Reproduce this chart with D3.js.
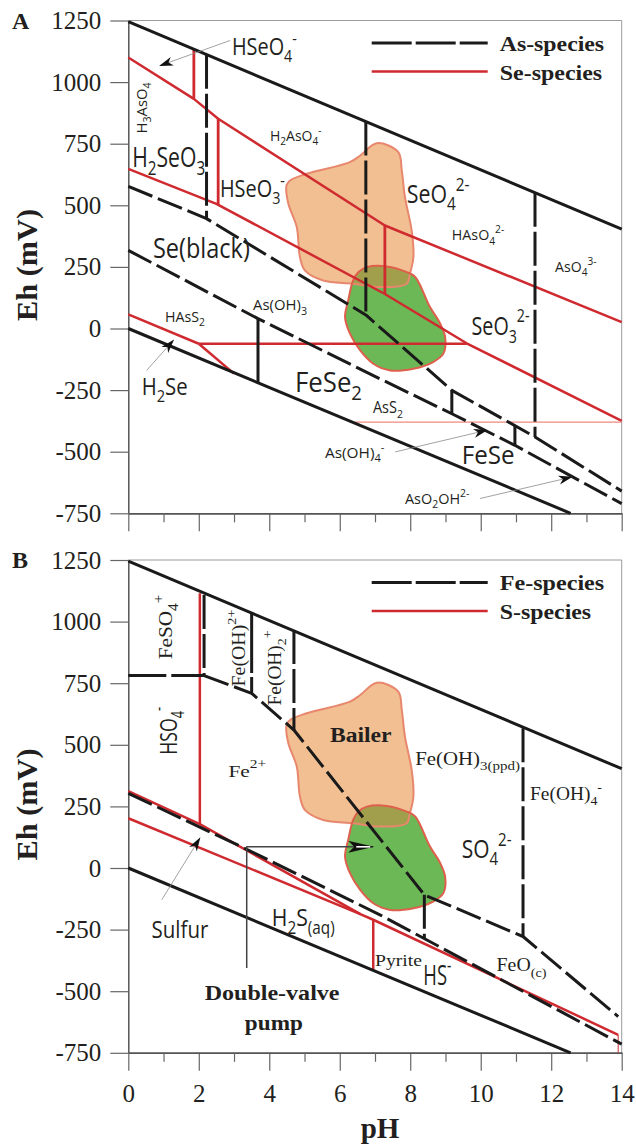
<!DOCTYPE html>
<html>
<head>
<meta charset="utf-8">
<script src="https://cdn.jsdelivr.net/npm/d3@7"></script>
<style>
  body { margin: 0; background: #fff; }
</style>
</head>
<body>
<svg id="chart" width="636" height="1147"></svg>
<script>
// ---- axes ----
const phTicks = d3.range(0, 15);
const phLabels = [0, 2, 4, 6, 8, 10, 12, 14];
const ehTicks = [1250, 1000, 750, 500, 250, 0, -250, -500, -750];

// ---- water stability limits (both panels) [pH, Eh] ----
const waterUpper = [[0, 1245], [14, 403]];
const waterLower = [[0, 0], [12.55, -750]];

// ---- panel A : As boundaries ----
const asLine1 = [[0, 577], [2.22, 446], [6.74, 55], [9.18, -251], [11.54, -440], [14, -660]];
const asLine2 = [[0, 317], [3.68, 40], [7.14, -204], [9.18, -346], [10.97, -474], [14, -711]];
const asVertDashed = [[2.22, 1111, 446], [6.74, 840, 55], [11.54, 551, -440]];
const asVertSolid = [[3.68, 40, -220], [9.18, -251, -346], [10.97, -394, -474]];

// ---- panel A : Se boundaries ----
const seLine1 = [[0, 1100], [1.86, 932], [2.55, 851], [7.28, 418], [14, 26]];
const seLine2 = [[0, 648], [2.5, 506], [7.28, 140], [9.6, -60], [14, -375]];
const seLine3 = [[0, 57], [2.0, -62]];
const seFeSe2 = [[2.0, -62], [9.6, -62]];
const seH2Se = [[2.0, -62], [3.0, -183]];
const seVert = [[1.86, 1133, 932], [2.55, 851, 502], [7.28, 418, 140]];
const asS2Line = [[6.43, -380], [14, -380]];

// ---- panel B : Fe boundaries ----
const feHoriz = [[0, 781], [2.15, 781]];
const feUpper = [[2.15, 781], [3.5, 709], [4.7, 560], [8.4, -109], [11.2, -278], [13.9, -603]];
const feLower = [[0, 303], [3.36, 76], [7.14, -190], [14, -715]];
const feVertDashed = [[2.15, 1108, 781], [4.7, 966, 560], [8.4, -109, -287], [11.2, 567, -278]];
const feVertSolid = [[3.5, 1035, 709]];

// ---- panel B : S boundaries ----
const sUpper = [[0, 312], [2.03, 178], [6.6, -188]];
const sLower = [[0, 202], [6.6, -188]];
const sMain = [[6.6, -188], [6.95, -210], [13.9, -677]];
const sVert = [[2.03, 1115, 178], [6.95, -210, -412], [13.9, -677, -750]];

// ---- sampled waters (same in both panels) ----
const bailer = [[4.49, 581], [4.54, 507], [4.78, 412], [4.87, 290], [5.01, 236], [5.53, 195],
  [6.38, 182], [7.14, 168], [7.90, 182], [7.99, 222], [8.09, 290], [8.04, 398], [7.85, 533],
  [7.76, 641], [7.66, 716], [7.05, 752], [6.58, 702], [6.29, 675], [5.06, 628], [4.59, 601]];
const pump = [[6.53, 229], [6.77, 249], [7.33, 252], [7.90, 229], [8.14, 209], [8.56, 87],
  [8.85, 20], [8.99, -35], [8.94, -102], [8.65, -136], [8.09, -163], [7.43, -170], [6.95, -143],
  [6.58, -89], [6.29, -21], [6.15, 46], [6.24, 114], [6.38, 195]];

const BLACK = "#1a1a1a", RED = "#cf2a30", TXT = "#231f20";
const SANS = "'Open Sans', 'Noto Sans', sans-serif";
const SERIF = "'Liberation Serif', 'Times New Roman', serif";

const svg = d3.select("#chart");
const defs = svg.append("defs");
defs.append("marker").attr("id", "tip")
  .attr("viewBox", "0 0 14 10").attr("refX", 13).attr("refY", 5)
  .attr("markerWidth", 15).attr("markerHeight", 10)
  .attr("markerUnits", "userSpaceOnUse").attr("orient", "auto")
  .append("path").attr("d", "M0,0.5 L14,5 L0,9.5 L4,5 Z").attr("fill", "#111");
const tipW = defs.append("marker").attr("id", "tipw")
  .attr("viewBox", "0 0 26 12").attr("refX", 25).attr("refY", 6)
  .attr("markerWidth", 26).attr("markerHeight", 12)
  .attr("markerUnits", "userSpaceOnUse").attr("orient", "auto");
tipW.append("path").attr("d", "M0,0 L26,6 L0,12 L6,6 Z").attr("fill", "#111");
tipW.append("path").attr("d", "M8,6 L22,6").attr("stroke", "#fff").attr("stroke-width", 1.6);

const x = d3.scaleLinear().domain([0, 14]).range([128.3, 621.7]);

function rich(t, markup, size) {
  const parts = markup.split(/(_\{[^}]*\}|\^\{[^}]*\})/).filter(s => s);
  let cur = 0;
  parts.forEach(p => {
    let off = 0, txt = p, small = false;
    if (p.startsWith("_{")) { off = 0.3; txt = p.slice(2, -1); small = true; }
    else if (p.startsWith("^{")) { off = -0.48; txt = p.slice(2, -1); small = true; }
    t.append("tspan").attr("dy", (off - cur) * size)
      .attr("font-size", small ? size * 0.72 : size).text(txt);
    cur = off;
  });
}

function label(g, px, py, markup, o) {
  const t = g.append("text")
    .attr("font-family", o.serif ? SERIF : SANS)
    .attr("font-size", o.size)
    .attr("font-weight", o.bold ? 700 : 400)
    .attr("fill", TXT)
    .attr("text-anchor", o.anchor || "start");
  rich(t, markup, o.size);
  const w = t.node().getBBox().width;
  const s = o.width ? o.width / w : 1;
  t.attr("transform", `translate(${px},${py})` + (o.rotate ? " rotate(-90)" : "") + ` scale(${s},1)`);
  return t;
}

function panel(top, letter, legendNames) {
  const y = d3.scaleLinear().domain([-750, 1250]).range([top + 492.8, top]);
  const g = svg.append("g");
  const line = d3.line().x(d => x(d[0])).y(d => y(d[1]));

  // frame
  g.append("line").attr("x1", x(0)).attr("x2", x(14)).attr("y1", y(1250)).attr("y2", y(1250))
    .attr("stroke", "#9a9a9a").attr("stroke-width", 1);
  g.append("line").attr("x1", x(14)).attr("x2", x(14)).attr("y1", y(1250)).attr("y2", y(-750))
    .attr("stroke", "#9a9a9a").attr("stroke-width", 1);

  const yAxis = g.append("g").attr("transform", `translate(${x(0)},0)`)
    .call(d3.axisLeft(y).tickValues(ehTicks).tickSize(18).tickSizeOuter(0).tickPadding(9)
      .tickFormat(d => d < 0 ? "-" + Math.abs(d) : String(d)));
  const xMajor = g.append("g").attr("transform", `translate(0,${y(-750)})`)
    .call(d3.axisBottom(x).tickValues(phLabels).tickSize(18).tickSizeOuter(0).tickPadding(13)
      .tickFormat(d => letter === "B" ? d : ""));
  const xMinor = g.append("g").attr("transform", `translate(0,${y(-750)})`)
    .call(d3.axisBottom(x).tickValues(phTicks.filter(d => d % 2)).tickSize(9).tickSizeOuter(0).tickFormat(""));
  [yAxis, xMajor, xMinor].forEach(a => {
    a.select(".domain").attr("stroke", "#555").attr("stroke-width", 1.5);
    a.selectAll(".tick line").attr("stroke", "#666").attr("stroke-width", 1.2);
    a.selectAll("text").attr("font-family", SERIF).attr("font-size", 25).attr("fill", TXT);
  });

  // panel letter, axis title
  g.append("text").attr("x", 12).attr("y", top + 8).attr("font-family", SERIF)
    .attr("font-weight", 700).attr("font-size", 24).attr("fill", TXT).text(letter);
  label(g, 37, (y(1250) + y(-750)) / 2 - 2, "Eh (mV)", { serif: true, bold: true, size: 29, rotate: true, anchor: "middle", width: 112 });

  // legend
  const lx0 = x(14) - 250, lx1 = x(14) - 134;
  g.append("line").attr("x1", lx0).attr("x2", lx1).attr("y1", top + 22.5).attr("y2", top + 22.5)
    .attr("stroke", BLACK).attr("stroke-width", 3).attr("stroke-dasharray", "40,4");
  g.append("line").attr("x1", lx0).attr("x2", lx1).attr("y1", top + 51).attr("y2", top + 51)
    .attr("stroke", RED).attr("stroke-width", 2.5);
  label(g, x(14) - 122, top + 30, legendNames[0], { serif: true, bold: true, size: 22, width: 105 });
  label(g, x(14) - 122, top + 59, legendNames[1], { serif: true, bold: true, size: 22, width: legendNames[2] });

  // sampled waters
  const blob = d3.line().x(d => x(d[0])).y(d => y(d[1])).curve(d3.curveCatmullRomClosed.alpha(0.5));
  const clipId = "clip" + letter;
  defs.append("clipPath").attr("id", clipId).append("path").attr("d", blob(bailer));
  g.append("path").attr("d", blob(bailer)).attr("fill", "#f1bf91");
  g.append("path").attr("d", blob(pump)).attr("fill", "#6cb856");
  g.append("path").attr("d", blob(pump)).attr("fill", "#a29f4c").attr("clip-path", `url(#${clipId})`);
  g.append("path").attr("d", blob(bailer)).attr("fill", "none").attr("stroke", "#e8876d").attr("stroke-width", 2);
  g.append("path").attr("d", blob(pump)).attr("fill", "none").attr("stroke", "#de604c").attr("stroke-width", 2);

  const draw = (pts, color, width, dash) => g.append("path").attr("d", line(pts))
    .attr("fill", "none").attr("stroke", color).attr("stroke-width", width)
    .attr("stroke-dasharray", dash || null).attr("stroke-linejoin", "round");
  const verts = (list, color, width, dash) =>
    list.forEach(([p, e0, e1]) => draw([[p, e0], [p, e1]], color, width, dash));
  const arrow = (pts, color, width, marker) => draw(pts, color, width).attr("marker-end", `url(#${marker})`);

  return { g, y, draw, verts, arrow };
}

// ================= Panel A =================
const A = panel(20.5, "A", ["As-species", "Se-species", 103]);
A.draw(seLine1, RED, 2.5);
A.draw(seLine2, RED, 2.5);
A.draw(seLine3, RED, 2.5);
A.draw(seFeSe2, RED, 2.5);
A.draw(seH2Se, RED, 2.5);
A.verts(seVert, RED, 2.8);
A.draw(asS2Line, "#ef8a82", 1.2);
A.draw(waterUpper, BLACK, 3);
A.draw(waterLower, BLACK, 3);
A.draw(asLine1, BLACK, 3, "26,6");
A.draw(asLine2, BLACK, 3, "26,6");
A.verts(asVertDashed, BLACK, 3, "34,5");
A.verts(asVertSolid, BLACK, 3);
A.arrow([[2.89, 1169], [0.90, 1067]], "#8a8a8a", 0.8, "tip");
A.arrow([[0.52, -170], [1.28, -48]], "#8a8a8a", 0.8, "tip");
A.arrow([[7.57, -501], [10.17, -413]], "#8a8a8a", 0.8, "tip");
A.arrow([[9.98, -690], [12.58, -603]], "#8a8a8a", 0.8, "tip");

[
  [2.94, 1110, "HSeO_{4}^{-}", 23, 65],
  [0.11, 656, "H_{2}SeO_{3}", 27, 73],
  [2.60, 534, "HSeO_{3}^{-}", 23, 65],
  [4.02, 761, "H_{2}AsO_{4}^{-}", 15, 52],
  [0.70, 286, "Se(black)", 27, 97],
  [7.90, 510, "SeO_{4}^{2-}", 25, 63],
  [9.18, 359, "HAsO_{4}^{2-}", 15, 53],
  [12.11, 230, "AsO_{4}^{3-}", 15, 42],
  [3.54, 75, "As(OH)_{3}", 15, 54],
  [1.04, 28, "HAsS_{2}", 15, 40],
  [0.38, -270, "H_{2}Se", 23, 46],
  [4.73, -256, "FeSe_{2}", 27, 67],
  [6.94, -343, "AsS_{2}", 16, 30],
  [9.74, -26, "SeO_{3}^{2-}", 26, 58],
  [5.58, -525, "As(OH)_{4}^{-}", 15, 60],
  [9.46, -550, "FeSe", 26, 53],
  [7.85, -712, "AsO_{2}OH^{2-}", 15, 65]
].forEach(([p, e, m, s, w]) => label(A.g, x(p), A.y(e), m, { size: s, width: w }));
label(A.g, x(0.53), A.y(895), "H_{3}AsO_{4}", { size: 15, width: 51, rotate: true, anchor: "middle" });

// ================= Panel B =================
const B = panel(560, "B", ["Fe-species", "S-species", 92]);
B.draw(sUpper, RED, 2.5);
B.draw(sLower, RED, 2.5);
B.draw(sMain, RED, 2.5);
B.verts(sVert.slice(0, 2), RED, 2.5);
B.verts(sVert.slice(2), RED, 1);
B.draw(waterUpper, BLACK, 3);
B.draw(waterLower, BLACK, 3);
B.draw(feHoriz, BLACK, 3, "38,5");
B.draw(feUpper, BLACK, 3, "26,6");
B.draw(feLower, BLACK, 3, "26,6");
B.verts(feVertDashed, BLACK, 3, "34,5");
B.verts(feVertSolid, BLACK, 3, "60,4");
B.arrow([[0.95, -129], [2.03, 121]], "#8a8a8a", 0.8, "tip");
B.arrow([[3.36, -406], [3.36, 86], [6.95, 86]], "#444", 1.5, "tipw");

[
  [2.84, 371, "Fe^{2+}", 17, 38, true],
  [8.14, 419, "Fe(OH)_{3(ppd)}", 18, 105, true],
  [11.40, 277, "Fe(OH)_{4}^{-}", 18, 72, true],
  [9.46, 41, "SO_{4}^{2-}", 25, 50, false],
  [0.66, -284, "Sulfur", 24, 57, false],
  [4.07, -237, "H_{2}S_{(aq)}", 24, 63, false],
  [7.0, -397, "Pyrite", 17, 47, true],
  [8.37, -473, "HS^{-}", 27, 28, false],
  [10.45, -419, "FeO_{(c)}", 18, 50, true]
].forEach(([p, e, m, s, w, serif]) => label(B.g, x(p), B.y(e), m, { size: s, width: w, serif }));
label(B.g, x(5.72), B.y(513), "Bailer", { serif: true, bold: true, size: 22, width: 62 });
label(B.g, x(4.08), B.y(-534), "Double-valve", { serif: true, bold: true, size: 20, width: 135, anchor: "middle" });
label(B.g, x(4.13), B.y(-656), "pump", { serif: true, bold: true, size: 20, width: 58, anchor: "middle" });
label(B.g, x(1.24), B.y(978), "FeSO_{4}^{+}", { serif: true, size: 19, width: 65, rotate: true, anchor: "middle" });
label(B.g, x(1.38), B.y(557), "HSO_{4}^{-}", { size: 24, width: 48, rotate: true, anchor: "middle" });
label(B.g, x(3.31), B.y(893), "Fe(OH)^{2+}", { serif: true, size: 18, width: 77, rotate: true, anchor: "middle" });
label(B.g, x(4.33), B.y(812), "Fe(OH)_{2}^{+}", { serif: true, size: 18, width: 75, rotate: true, anchor: "middle" });

// x axis title
svg.append("text").attr("x", 380).attr("y", 1138).attr("text-anchor", "middle")
  .attr("font-family", SERIF).attr("font-weight", 700).attr("font-size", 29).attr("fill", TXT).text("pH");
</script>
</body>
</html>
